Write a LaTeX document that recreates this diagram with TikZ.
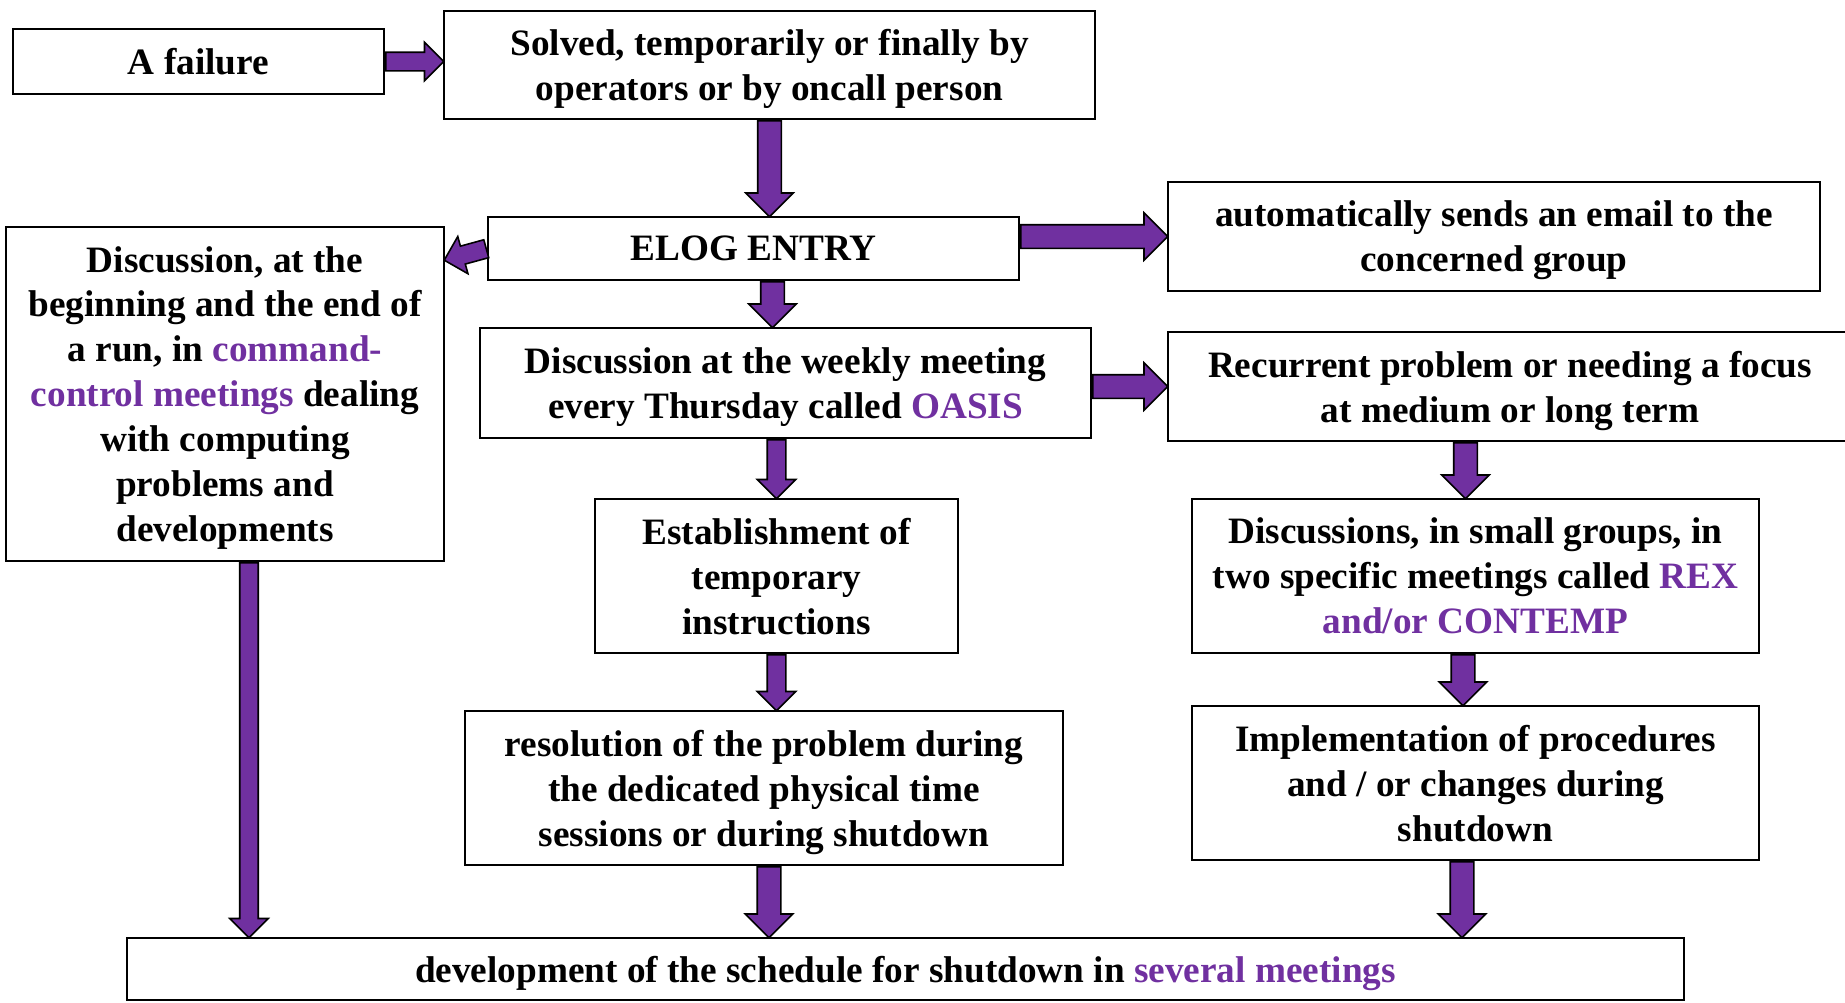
\documentclass[tikz,border=0pt]{standalone}
\usepackage{fontspec}
\setmainfont{Liberation Serif}
\usepackage{xcolor}
\usetikzlibrary{positioning, calc, shapes.arrows}
\definecolor{oasispurple}{HTML}{7030A0}
\newcommand{\hl}[1]{\textcolor{oasispurple}{#1}}
% fat block arrow between two points
\newcommand{\fatarrow}[3][]{\path let \p1=($(#3)-(#2)$), \n1={veclen(\x1,\y1)} in (#2) -- (#3) node[bigarrow, #1, minimum height=\n1, at start, anchor=tail, sloped, allow upside down]{};}

\begin{document}
\begin{tikzpicture}[x=0.02cm, y=-0.02cm,
	infobox/.style={rectangle, draw, line width=1.2pt, align=center, inner sep=2pt, text depth=0pt, font=\fontsize{21.2}{25.6}\selectfont\bfseries},
	bigarrow/.style={single arrow, draw, line width=0.9pt, fill=oasispurple, inner xsep=0pt, inner ysep=0.22cm, single arrow head extend=0.24cm},
	slim/.style={inner ysep=0.17cm, single arrow head extend=0.2cm}]
		\useasboundingbox (0,0) rectangle (1845,1002);
		
		\node[infobox, minimum width=7.42cm, minimum height=1.30cm] (fail) at (198.5,61.5) {A failure};
		\node[infobox, minimum width=13.02cm, minimum height=2.16cm] (solved) at (769.5,65) {Solved, temporarily or finally by\\operators or by oncall person};
		
		\node[infobox, minimum width=10.62cm, minimum height=1.26cm] (elog) at (753.5,248.5) {ELOG ENTRY};
		\node[infobox, minimum width=13.04cm, minimum height=2.18cm] (email) at (1494,236.5) {automatically sends an email to the\\concerned group};
		
		\node[infobox, minimum width=8.76cm, minimum height=6.68cm] (cc) at (225,394) {Discussion, at the\\beginning and the end of\\a run, in \hl{command-}\\\hl{control meetings} dealing\\with computing\\problems and\\developments};
		
		\node[infobox, minimum width=12.22cm, minimum height=2.20cm] (weekly) at (785.5,383) {Discussion at the weekly meeting\\every Thursday called \hl{OASIS}};
		\node[infobox, minimum width=13.68cm, minimum height=2.18cm] (recur) at (1510,386.5) {Recurrent problem or needing a focus\\at medium or long term};
		
		\node[infobox, minimum width=7.26cm, minimum height=3.08cm] (estab) at (776.5,576) {Establishment of\\temporary\\instructions};
		\node[infobox, minimum width=11.34cm, minimum height=3.08cm] (rex) at (1475.5,576) {Discussions, in small groups, in\\two specific meetings called \hl{REX}\\\hl{and/or CONTEMP}};
		
		\node[infobox, minimum width=11.96cm, minimum height=3.08cm] (resol) at (764,788) {resolution of the problem during\\the dedicated physical time\\sessions or during shutdown};
		\node[infobox, minimum width=11.34cm, minimum height=3.08cm] (impl) at (1475.5,783) {Implementation of procedures\\and / or changes during\\shutdown};
		
		\node[infobox, minimum width=31.14cm, minimum height=1.24cm] (dev) at (905.5,969) {development of the schedule for shutdown in \hl{several meetings}};
		
		% arrow anchors
		\coordinate (e2w) at ([xshift=0.38cm]elog.south);
		\coordinate (r2x) at ([xshift=-0.2cm]rex.north);
		\coordinate (x2i) at ([xshift=-0.25cm]rex.south);
		\coordinate (s2d) at ([xshift=0.1cm]resol.south);
		\coordinate (i2d) at ([xshift=-0.27cm]impl.south);
		\coordinate (c2d) at ([xshift=0.48cm]cc.south);
		\coordinate (e2c) at ([yshift=-0.68cm]cc.north east);
		
		\fatarrow[slim]{fail.east}{fail.east -| solved.west}
		\fatarrow{solved.south}{solved.south |- elog.north}
		\fatarrow[slim]{elog.west}{e2c}
		\fatarrow{email.west -| elog.east}{email.west}
		\fatarrow{e2w}{e2w |- weekly.north}
		\fatarrow{weekly.east |- recur.west}{recur.west}
		\fatarrow[slim]{weekly.south -| estab.north}{estab.north}
		\fatarrow{r2x |- recur.south}{r2x}
		\fatarrow[slim]{estab.south}{estab.south |- resol.north}
		\fatarrow{x2i}{x2i |- impl.north}
		\fatarrow{s2d}{s2d |- dev.north}
		\fatarrow{i2d}{i2d |- dev.north}
		\fatarrow[slim]{c2d}{c2d |- dev.north}
		
	\end{tikzpicture}
\end{document}
